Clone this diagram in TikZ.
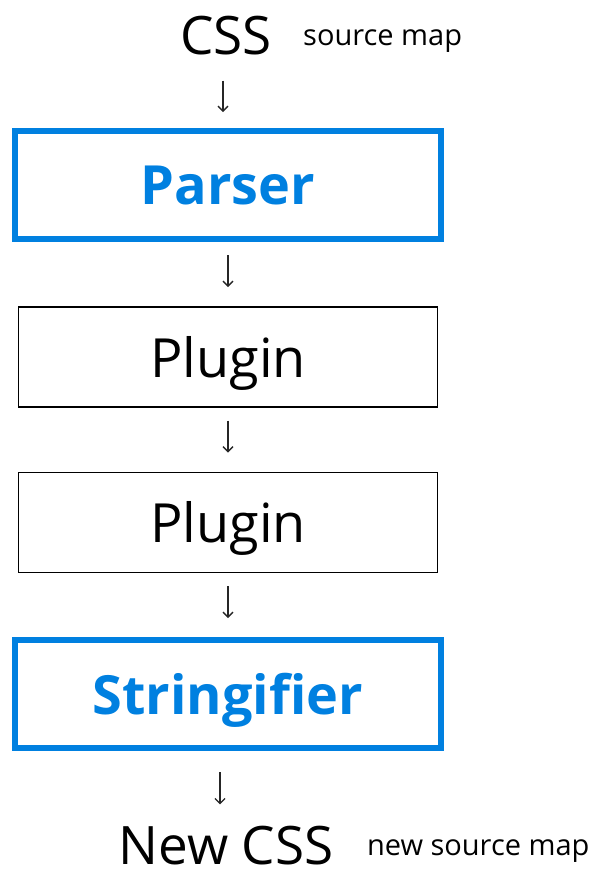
\documentclass[tikz,border=0pt]{standalone}
\usepackage{fontspec}
\setmainfont{Open Sans}
\usetikzlibrary{arrows.meta,positioning}
\definecolor{flowblue}{RGB}{0,128,224}

\begin{document}
\begin{tikzpicture}[x=1pt,y=1pt,>={Straight Barb[length=5pt,width=10pt]},node distance=64pt,
stage/.style={draw=flowblue,line width=6pt,minimum width=426pt,minimum height=108pt,text depth=0pt,text=flowblue,font=\fontsize{54}{60}\selectfont\bfseries},
plug/.style={draw=black,line width=1.5pt,minimum width=419pt,minimum height=100pt,text depth=0pt,font=\fontsize{54}{60}\selectfont},
big/.style={inner sep=0pt,font=\fontsize{53}{60}\selectfont},
small/.style={inner sep=0pt,yshift=-5pt,font=\fontsize{29}{34}\selectfont},
arr/.style={->,line width=1.3pt,black!85,shorten <=13pt,shorten >=19pt}]
\useasboundingbox (0,0) rectangle (601,-873);
\node[big] (css) at (226,-36) {CSS};
\node[small,right=31pt of css] (map) {source map};
\node[stage] (parser) at (228,-185) {Parser};
\node[plug,below=of parser] (plug1) {Plugin};
\node[plug,below=of plug1] (plug2) {Plugin};
\node[stage,below=of plug2] (str) {Stringifier};
\node[big] (newcss) at (226,-846) {New CSS};
\node[small,right=33pt of newcss] (newmap) {new source map};
\draw[arr,shorten <=25pt,shorten >=16pt] (css.south-|223,0) -- (parser.north-|223,0);
\draw[arr] (parser) -- (plug1);
\draw[arr] (plug1) -- (plug2);
\draw[arr] (plug2) -- (str);
\draw[arr,shorten <=21pt,shorten >=22pt] (str.south-|220,0) -- (newcss.north-|220,0);
\end{tikzpicture}
\end{document}
